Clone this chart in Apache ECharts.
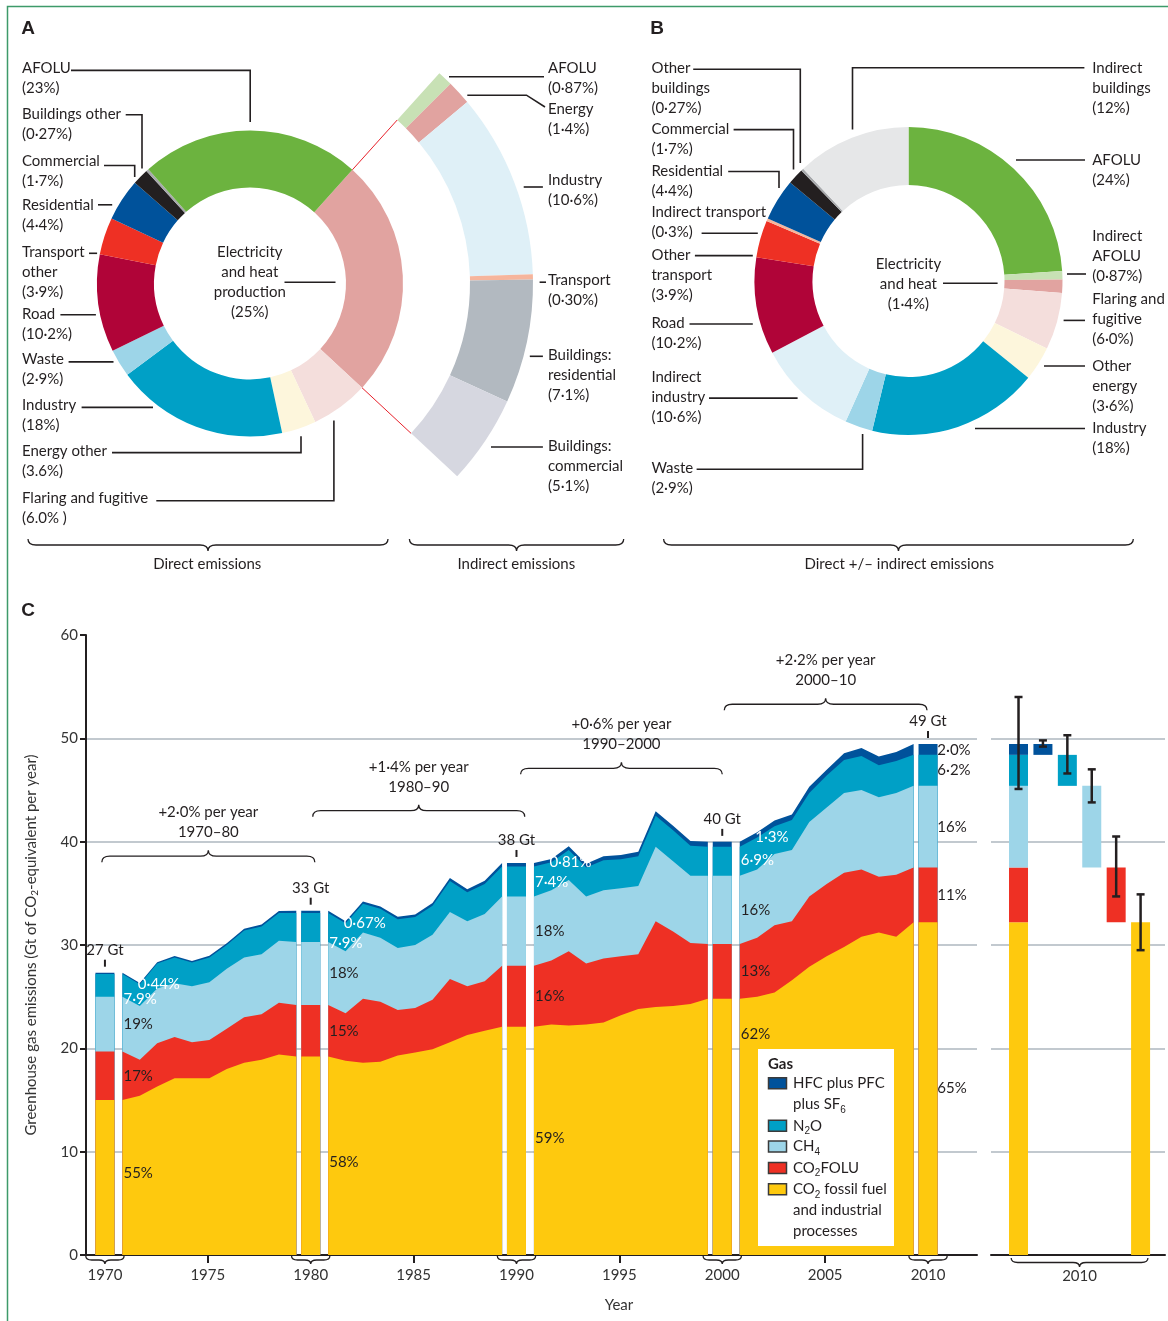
<!DOCTYPE html>
<html>
<head>
<meta charset="utf-8">
<title>Greenhouse gas emissions by sector and gas</title>
<script src="https://cdn.jsdelivr.net/npm/echarts@6/dist/echarts.min.js"></script>
<style>
    html, body { margin: 0; padding: 0; background: #fff; }
    #main { width: 1168px; height: 1321px; }
</style>
</head>
<body>
<div id="main"></div>
<script>
// ---- panel A: direct emissions by sector (% of total), clockwise from electricity
var directSectors = ['Electricity and heat production', 'Flaring and fugitive', 'Energy other', 'Industry', 'Waste', 'Road',
    'Transport other', 'Residential', 'Commercial', 'Buildings other', 'AFOLU'];
var directShares = [25, 6.0, 3.6, 18, 2.9, 10.2, 3.9, 4.4, 1.7, 0.27, 23];
// electricity and heat split out to the sectors that use it
var indirectSectors = ['AFOLU', 'Energy', 'Industry', 'Transport', 'Buildings: residential', 'Buildings: commercial'];
var indirectShares = [0.87, 1.4, 10.6, 0.30, 7.1, 5.1];

// ---- panel B: direct +/- indirect, clockwise from the top
var combinedSectors = ['AFOLU', 'Indirect AFOLU', 'Electricity and heat', 'Flaring and fugitive', 'Other energy', 'Industry',
    'Waste', 'Indirect industry', 'Road', 'Other transport', 'Indirect transport', 'Residential', 'Commercial',
    'Other buildings', 'Indirect buildings'];
var combinedShares = [24, 0.87, 1.4, 6.0, 3.6, 18, 2.9, 10.6, 10.2, 3.9, 0.3, 4.4, 1.7, 0.27, 12];

// ---- panel C: Gt CO2-eq per year, 1970 .. 2010
var firstYear = 1970;
var co2Fossil = [15.0, 15.4, 16.3, 17.1, 17.1, 17.1, 18.0, 18.6, 18.9, 19.4,
    19.2, 18.8, 18.6, 18.7, 19.3, 19.6, 19.9, 20.6, 21.3, 21.7,
    22.1, 22.3, 22.2, 22.3, 22.5, 23.2, 23.8, 24.0, 24.1, 24.3,
    24.8, 25.0, 25.4, 26.6, 27.9, 28.9, 29.8, 30.8, 31.2, 30.8,
    32.2];
var co2Folu = [4.7, 3.5, 4.2, 4.0, 3.5, 3.7, 3.9, 4.4, 4.4, 5.0,
    5.0, 4.6, 6.2, 5.8, 4.4, 4.3, 4.8, 6.1, 4.7, 4.8,
    5.9, 6.2, 7.2, 5.9, 6.2, 5.7, 5.3, 8.3, 7.2, 5.9,
    5.3, 5.7, 6.5, 5.7, 6.8, 7.0, 7.2, 6.5, 5.4, 6.0,
    5.3];
var ch4 = [5.3, 5.2, 5.3, 5.2, 5.4, 5.6, 5.8, 5.8, 5.8, 6.0,
    6.1, 6.0, 6.4, 6.2, 6.0, 6.1, 6.3, 6.5, 6.3, 6.5,
    6.7, 6.8, 6.9, 6.5, 6.6, 6.6, 6.6, 7.2, 6.8, 6.5,
    6.6, 6.6, 6.9, 6.9, 7.2, 7.4, 7.7, 7.7, 7.7, 7.9,
    7.9];
var n2o = [2.2, 2.1, 2.4, 2.5, 2.3, 2.4, 2.3, 2.6, 2.7, 2.7,
    2.8, 2.7, 2.8, 2.8, 2.8, 2.7, 2.8, 3.0, 2.8, 2.9,
    2.9, 2.7, 2.9, 2.8, 2.9, 2.8, 2.9, 3.0, 3.0, 2.9,
    2.8, 3.1, 2.7, 2.9, 2.8, 3.1, 3.2, 3.3, 3.1, 3.1,
    3.0];
var fGases = [0.12, 0.12, 0.13, 0.14, 0.14, 0.15, 0.16, 0.17, 0.18, 0.20,
    0.22, 0.21, 0.22, 0.23, 0.24, 0.25, 0.27, 0.28, 0.30, 0.32,
    0.34, 0.33, 0.35, 0.36, 0.38, 0.40, 0.42, 0.44, 0.45, 0.47,
    0.48, 0.50, 0.56, 0.52, 0.62, 0.55, 0.66, 0.76, 0.84, 0.88,
    1.05];

var decadeYears = [1970, 1980, 1990, 2000, 2010];
var totalLabels = ['27 Gt', '33 Gt', '38 Gt', '40 Gt', '49 Gt'];
var shareFossil = ['55%', '58%', '59%', '62%', '65%'];
var shareFolu = ['17%', '15%', '16%', '13%', '11%'];
var shareCh4 = ['19%', '18%', '18%', '16%', '16%'];
var shareN2o = ['7·9%', '7·9%', '7·4%', '6·9%', '6·2%'];
var shareFgas = ['0·44%', '0·67%', '0·81%', '1·3%', '2·0%'];
var periodRates = ['+2·0% per year', '+1·4% per year', '+0·6% per year', '+2·2% per year'];
var periodNames = ['1970–80', '1980–90', '1990–2000', '2000–10'];

// 2010 uncertainty: total, F-gases, N2O, CH4, CO2 FOLU, CO2 fossil
var rangeLow = [45.1, 49.2, 46.6, 43.8, 34.7, 29.5];
var rangeHigh = [54.0, 49.8, 50.3, 47.0, 40.5, 34.9];

// ---------------------------------------------------------------- styles
var ink = '#231f20';
var FONT = 'Lato, "Open Sans", "DejaVu Sans", sans-serif';
var directColors = ['#e1a3a0', '#f4dedc', '#fdf6dc', '#00a0c6', '#9dd5e8', '#b00438', '#ee3024', '#00529b', '#231f20', '#a7a9ac', '#6cb33f'];
var indirectColors = ['#c8e1b5', '#e1a3a0', '#dff0f7', '#f6b59c', '#b2b9c0', '#d6d7e0'];
var combinedColors = ['#6cb33f', '#c8e1b5', '#e1a3a0', '#f4dedc', '#fdf6dc', '#00a0c6', '#9dd5e8', '#dff0f7', '#b00438', '#ee3024', '#f6b59c', '#00529b', '#231f20', '#a7a9ac', '#e6e7e8'];
var gasNames = ['CO2 fossil fuel and industrial processes', 'CO2FOLU', 'CH4', 'N2O', 'HFC plus PFC plus SF6'];
var gasColors = ['#fec90e', '#ee3024', '#9dd5e8', '#00a0c6', '#00529b'];
var gasValues = [co2Fossil, co2Folu, ch4, n2o, fGases];
var fossilLabelAt = [0.53, 0.47, 0.51, 0.86, 0.5];   // where the big % sits inside the yellow band
var braceSpans = [[1969.85, 1980.2], [1980.1, 1990.4], [1990.2, 2000.0], [2000.1, 2009.95]];
var braceLevels = [38.6, 43.0, 47.1, 53.3];

// cumulative tops for one year: [0, fossil, +folu, +ch4, +n2o, +f]
function stackAt(i) {
    var out = [0], s = 0;
    for (var g = 0; g < gasValues.length; g++) { s += gasValues[g][i]; out.push(s); }
    return out;
}
// each decade is drawn squeezed between its two bars
function blockX(year, start) { return start + 0.85 + (year - start) * 0.845; }

function bracePath(x0, x1, y, h, dir) {
    var xm = (x0 + x1) / 2, r = Math.min(h / 2 + 2, (x1 - x0) / 6);
    var yh = y + dir * h / 2, yn = y + dir * h;
    return 'M' + x0 + ',' + y +
        ' Q' + x0 + ',' + yh + ' ' + (x0 + r) + ',' + yh +
        ' L' + (xm - r) + ',' + yh +
        ' Q' + xm + ',' + yh + ' ' + xm + ',' + yn +
        ' Q' + xm + ',' + yh + ' ' + (xm + r) + ',' + yh +
        ' L' + (x1 - r) + ',' + yh +
        ' Q' + x1 + ',' + yh + ' ' + x1 + ',' + y;
}
function braceEl(x0, x1, y, h, dir) {
    return { type: 'path', shape: { pathData: bracePath(x0, x1, y, h, dir) }, style: { stroke: ink, fill: null, lineWidth: 1.3 } };
}

function txt(x, y, str, align, extra) {
    var st = {
        text: str, x: x, y: y, fill: ink, font: '15px ' + FONT,
        align: align, textAlign: align, verticalAlign: 'middle', textVerticalAlign: 'middle', lineHeight: 20
    };
    for (var k in extra) st[k] = extra[k];
    return { type: 'text', silent: true, style: st };
}

function sum(a) { return a.reduce(function (s, v) { return s + v; }, 0); }

// ---------------------------------------------------------------- panel C series
var series = [];

[1970, 1980, 1990, 2000].forEach(function (start) {
    for (var g = gasValues.length - 1; g >= 0; g--) {
        var pts = [];
        for (var yr = start; yr <= start + 10; yr++) {
            pts.push([blockX(yr, start), stackAt(yr - firstYear)[g + 1]]);
        }
        series.push({
            type: 'line', name: gasNames[g], xAxisIndex: 0, yAxisIndex: 0, silent: true,
            symbol: 'none', data: pts, lineStyle: { width: 0 },
            areaStyle: { color: gasColors[g], opacity: 1 }, z: 2
        });
    }
});

for (var g = gasValues.length - 1; g >= 0; g--) {
    series.push({
        type: 'bar', name: gasNames[g], xAxisIndex: 0, yAxisIndex: 0, silent: true,
        barWidth: 19, barGap: '-100%', itemStyle: { color: gasColors[g] }, z: 2,
        data: decadeYears.map(function (d) { return [d, stackAt(d - firstYear)[g + 1]]; })
    });
}

// totals, shares and the small braces under the axis
series.push({
    type: 'custom', xAxisIndex: 0, yAxisIndex: 0, silent: true, clip: false, z: 10,
    data: decadeYears.map(function (d) { return [d, 0]; }),
    renderItem: function (params, api) {
        var k = params.dataIndex, d = decadeYears[k], i = d - firstYear, c = stackAt(i);
        var kids = [];
        var top = api.coord([d, c[5]]);
        kids.push({ type: 'line', shape: { x1: top[0], y1: top[1] - 6, x2: top[0], y2: top[1] - 13 }, style: { stroke: ink, lineWidth: 2 } });
        kids.push(txt(top[0], top[1] - 23, totalLabels[k], 'center'));
        var b0 = api.coord([d - 0.93, 0]), b1 = api.coord([d + 0.93, 0]);
        kids.push(braceEl(b0[0], b1[0], b0[1] + 1, 8, 1));

        var white = '#ffffff', pos;
        if (k < 4) {
            var cj = stackAt(i + 1);
            pos = [
                [d + 0.9, co2Fossil[i] * fossilLabelAt[k], ink, shareFossil[k]],
                [d + 0.9, (c[1] + c[2]) / 2, ink, shareFolu[k]],
                [d + 0.9, (c[2] + c[3]) / 2, ink, shareCh4[k]],
                [d + 0.9, cj[3] + 0.3 * n2o[i + 1], white, shareN2o[k]],
                [d + 1.6, cj[4], white, shareFgas[k]]
            ];
        } else {
            pos = [
                [d + 0.45, co2Fossil[i] * fossilLabelAt[k], ink, shareFossil[k]],
                [d + 0.45, (c[1] + c[2]) / 2, ink, shareFolu[k]],
                [d + 0.45, (c[2] + c[3]) / 2, ink, shareCh4[k]],
                [d + 0.45, (c[3] + c[4]) / 2, ink, shareN2o[k]],
                [d + 0.45, (c[4] + c[5]) / 2 - 0.1, ink, shareFgas[k]]
            ];
        }
        pos.forEach(function (p) {
            var xy = api.coord([p[0], p[1]]);
            kids.push(txt(xy[0], xy[1], p[3], 'left', { fill: p[2] }));
        });
        return { type: 'group', children: kids };
    }
});

// growth-rate braces above each decade
series.push({
    type: 'custom', xAxisIndex: 0, yAxisIndex: 0, silent: true, clip: false, z: 10,
    data: braceSpans.map(function (s, k) { return [s[0], braceLevels[k]]; }),
    renderItem: function (params, api) {
        var k = params.dataIndex;
        var p0 = api.coord([braceSpans[k][0], braceLevels[k]]), p1 = api.coord([braceSpans[k][1], braceLevels[k]]);
        var xm = (p0[0] + p1[0]) / 2;
        return {
            type: 'group', children: [
                braceEl(p0[0], p1[0], p0[1] + 6, 12, -1),
                txt(xm, p0[1] - 24, periodNames[k], 'center'),
                txt(xm, p0[1] - 44, periodRates[k], 'center')
            ]
        };
    }
});

// 2010 breakdown by gas, right-hand panel
var top2010 = stackAt(2010 - firstYear);
var stepData = [];
for (g = 0; g < 5; g++) stepData.push([0, top2010[g], top2010[g + 1], g]);
[4, 3, 2, 1, 0].forEach(function (gi, n) { stepData.push([n + 1, top2010[gi], top2010[gi + 1], gi]); });

series.push({
    type: 'custom', xAxisIndex: 1, yAxisIndex: 1, silent: true, z: 3,
    encode: { x: 0, y: [1, 2] },
    data: stepData,
    renderItem: function (params, api) {
        var a = api.coord([api.value(0), api.value(1)]), b = api.coord([api.value(0), api.value(2)]);
        return { type: 'rect', shape: { x: a[0] - 9.5, y: b[1], width: 19, height: a[1] - b[1] }, style: { fill: gasColors[api.value(3)] } };
    }
});

series.push({
    type: 'custom', xAxisIndex: 1, yAxisIndex: 1, silent: true, z: 6,
    encode: { x: 0, y: [1, 2] },
    data: rangeLow.map(function (lo, n) { return [n, lo, rangeHigh[n]]; }),
    renderItem: function (params, api) {
        var lo = api.coord([api.value(0), api.value(1)]), hi = api.coord([api.value(0), api.value(2)]);
        var st = { stroke: ink, lineWidth: 2.5 };
        return {
            type: 'group', children: [
                { type: 'line', shape: { x1: lo[0], y1: lo[1], x2: hi[0], y2: hi[1] }, style: st },
                { type: 'line', shape: { x1: lo[0] - 4, y1: lo[1], x2: lo[0] + 4, y2: lo[1] }, style: st },
                { type: 'line', shape: { x1: hi[0] - 4, y1: hi[1], x2: hi[0] + 4, y2: hi[1] }, style: st }
            ]
        };
    }
});

series.push({
    type: 'custom', xAxisIndex: 1, yAxisIndex: 1, silent: true, clip: false, z: 6,
    data: [[-0.3, 0]],
    renderItem: function (params, api) {
        var p0 = api.coord([-0.3, 0]), p1 = api.coord([5.3, 0]);
        return {
            type: 'group', children: [
                braceEl(p0[0], p1[0], p0[1] + 3, 9, 1),
                txt((p0[0] + p1[0]) / 2, p0[1] + 21, '2010', 'center', { fill: '#333' })
            ]
        };
    }
});

// ---------------------------------------------------------------- panels A and B
var cA = [250, 283.5], cB = [908.5, 281];
var elecSweep = 360 * directShares[0] / sum(directShares);

series.push({
    type: 'pie', center: cA, radius: [96, 153], startAngle: 48, silent: true,
    label: { show: false }, labelLine: { show: false }, emphasis: { disabled: true },
    data: directSectors.map(function (n, i) { return { name: n, value: directShares[i], itemStyle: { color: directColors[i] } }; })
});
series.push({
    type: 'pie', center: cA, radius: [220, 283], startAngle: 48, endAngle: 48 - elecSweep, silent: true,
    label: { show: false }, labelLine: { show: false }, emphasis: { disabled: true },
    data: indirectSectors.map(function (n, i) { return { name: n, value: indirectShares[i], itemStyle: { color: indirectColors[i] } }; })
});
series.push({
    type: 'pie', center: cB, radius: [96, 154], startAngle: 90, silent: true,
    label: { show: false }, labelLine: { show: false }, emphasis: { disabled: true },
    data: combinedSectors.map(function (n, i) { return { name: n, value: combinedShares[i], itemStyle: { color: combinedColors[i] } }; })
});

// braces under panels A and B (plain page positions)
series.push({
    type: 'custom', coordinateSystem: 'none', silent: true, z: 10,
    data: [[0]],
    renderItem: function () {
        return {
            type: 'group', children: [
                braceEl(28, 388, 539, 12, 1),
                braceEl(409.4, 623.7, 539, 12, 1),
                braceEl(663.6, 1133.3, 539, 12, 1)
            ]
        };
    }
});

// ---------------------------------------------------------------- labels and furniture
var graphics = [];
function addLabel(x, y, lines, align) {
    graphics.push(txt(x, y - 10, lines.join('\n'), align || 'left', { verticalAlign: 'top', textVerticalAlign: 'top' }));
}
function addLeader(pts) {
    graphics.push({ type: 'polyline', silent: true, shape: { points: pts }, style: { stroke: ink, lineWidth: 1.6, fill: null } });
}

var labelsA = [
    [22, 68.5, ['AFOLU', '(23%)'], [[71, 70.4], [250.2, 70.4], [250.2, 122]]],
    [22, 113.7, ['Buildings other', '(0·27%)'], [[125.7, 114.8], [142, 114.8], [142, 168.5]]],
    [22, 161, ['Commercial', '(1·7%)'], [[104, 165.5], [134.7, 165.5], [134.7, 177]]],
    [22, 204.8, ['Residential', '(4·4%)'], [[98, 204.8], [112.2, 204.8]]],
    [22, 252.6, ['Transport', 'other', '(3·9%)'], [[89, 253.3], [97.1, 253.3]]],
    [22, 314, ['Road', '(10·2%)'], [[60.4, 314.8], [95.9, 314.8]]],
    [22, 359, ['Waste', '(2·9%)'], [[68.6, 361.9], [113.5, 361.9]]],
    [22, 405.6, ['Industry', '(18%)'], [[81.6, 407.4], [153, 407.4]]],
    [22, 451, ['Energy other', '(3.6%)'], [[112, 452.6], [301, 452.6], [301, 436.3]]],
    [22, 498, ['Flaring and fugitive', '(6.0% )'], [[156.3, 500.7], [333.9, 500.7], [333.9, 420.4]]],
    [548, 67.8, ['AFOLU', '(0·87%)'], [[449, 76.7], [544, 76.7]]],
    [548, 109.6, ['Energy', '(1·4%)'], [[467.3, 95.2], [526.5, 95.2], [545, 107]]],
    [548, 180.4, ['Industry', '(10·6%)'], [[523.7, 187], [542.9, 187]]],
    [548, 280.4, ['Transport', '(0·30%)'], [[539.6, 282.2], [546, 282.2]]],
    [548, 355.6, ['Buildings:', 'residential', '(7·1%)'], [[529.8, 356.3], [542.9, 356.3]]],
    [548, 446.3, ['Buildings:', 'commercial', '(5·1%)'], [[491, 447], [542.9, 447]]]
];
var labelsB = [
    [651.4, 67.8, ['Other', 'buildings', '(0·27%)'], [[693.2, 69.3], [800.3, 69.3], [800.3, 163]]],
    [651.4, 128.9, ['Commercial', '(1·7%)'], [[733.6, 129.6], [793.5, 129.6], [793.5, 169.6]]],
    [651.4, 171.5, ['Residential', '(4·4%)'], [[728.2, 171.5], [779, 171.5], [779, 188]]],
    [651.4, 212.2, ['Indirect transport', '(0·3%)'], [[701.6, 233.3], [757.8, 233.3]]],
    [651.4, 254.8, ['Other', 'transport', '(3·9%)'], [[694.9, 255.6], [752.8, 255.6]]],
    [651.4, 323, ['Road', '(10·2%)'], [[689.5, 324], [752.8, 324]]],
    [651.4, 377, ['Indirect', 'industry', '(10·6%)'], [[709, 398.1], [797.6, 398.1]]],
    [651.4, 468.5, ['Waste', '(2·9%)'], [[696.6, 469.3], [862.6, 469.3], [862.6, 434]]],
    [1092.2, 67.8, ['Indirect', 'buildings', '(12%)'], [[1084.4, 67.8], [852.5, 67.8], [852.5, 129.6]]],
    [1092.2, 160, ['AFOLU', '(24%)'], [[1016, 160], [1085, 160]]],
    [1092.2, 236, ['Indirect', 'AFOLU', '(0·87%)'], [[1067, 274], [1086, 274]]],
    [1092.2, 299.3, ['Flaring and', 'fugitive', '(6·0%)'], [[1063.6, 320.4], [1085, 320.4]]],
    [1092.2, 366, ['Other', 'energy', '(3·6%)'], [[1044, 366], [1085, 366]]],
    [1092.2, 427.8, ['Industry', '(18%)'], [[975, 428.5], [1085, 428.5]]]
];
labelsA.concat(labelsB).forEach(function (l) { addLabel(l[0], l[1], l[2]); addLeader(l[3]); });

addLabel(249.8, 251.9, ['Electricity', 'and heat', 'production', '(25%)'], 'center');
addLeader([[284.5, 282.2], [335.5, 282.2]]);
addLabel(908.4, 264, ['Electricity', 'and heat', '(1·4%)'], 'center');
addLeader([[943, 283.3], [997.6, 283.3]]);

// red guides from the electricity slice out to its breakdown
[48, 48 - elecSweep].forEach(function (a) {
    var r = a * Math.PI / 180;
    graphics.push({
        type: 'line', silent: true,
        shape: { x1: cA[0] + 153 * Math.cos(r), y1: cA[1] - 153 * Math.sin(r), x2: cA[0] + 220 * Math.cos(r), y2: cA[1] - 220 * Math.sin(r) },
        style: { stroke: '#e8202a', lineWidth: 1 }
    });
});

graphics.push(txt(207.3, 564, 'Direct emissions', 'center'));
graphics.push(txt(516.3, 564, 'Indirect emissions', 'center'));
graphics.push(txt(899.3, 564, 'Direct +/– indirect emissions', 'center'));

var letterFont = 'bold 19px "Liberation Sans", Arial, sans-serif';
graphics.push(txt(28, 29, 'A', 'center', { font: letterFont }));
graphics.push(txt(657, 29, 'B', 'center', { font: letterFont }));
graphics.push(txt(28, 611, 'C', 'center', { font: letterFont }));
graphics.push(txt(619, 1305, 'Year', 'center', { fill: '#333' }));

// frame
graphics.push({ type: 'polyline', silent: true, shape: { points: [[7.5, 1321], [7.5, 6.5], [1168, 6.5]] }, style: { stroke: '#3d9a6a', lineWidth: 1.5, fill: null } });

// gas key
var subRich = { sub: { fontSize: 10, lineHeight: 10, verticalAlign: 'bottom' } };
graphics.push({ type: 'rect', silent: true, shape: { x: 758, y: 1049, width: 136, height: 197 }, style: { fill: '#fff' } });
graphics.push(txt(768, 1064, 'Gas', 'left', { font: 'bold 15px ' + FONT }));
var keyRows = [
    [4, 1083.3, 'HFC plus PFC\nplus SF{sub|6}'],
    [3, 1125.7, 'N{sub|2}O'],
    [2, 1146.5, 'CH{sub|4}'],
    [1, 1168, 'CO{sub|2}FOLU'],
    [0, 1189.3, 'CO{sub|2} fossil fuel\nand industrial\nprocesses']
];
keyRows.forEach(function (r) {
    graphics.push({ type: 'rect', silent: true, shape: { x: 768.5, y: r[1] - 5.5, width: 18, height: 11 }, style: { fill: gasColors[r[0]], stroke: '#3a3a3a', lineWidth: 1.5 } });
    graphics.push(txt(793, r[1] - 10.5, r[2], 'left', { verticalAlign: 'top', textVerticalAlign: 'top', lineHeight: 21, rich: subRich }));
});
graphics.forEach(function (el) { el.z = 20; });

// ---------------------------------------------------------------- chart
var myChart = echarts.init(document.getElementById('main'));
var option = {
    backgroundColor: '#fff',
    animation: false,
    textStyle: { fontFamily: FONT, color: ink },
    grid: [
        { left: 86, top: 635, width: 891, height: 620 },
        { left: 991, top: 635, width: 174, height: 620 }
    ],
    xAxis: [
        {
            type: 'value', gridIndex: 0, min: 1969.08, max: 2012.38,
            axisLine: { lineStyle: { color: ink, width: 2 } },
            axisTick: { customValues: [1975, 1985, 1995, 2005], length: 8, lineStyle: { color: ink, width: 2 } },
            axisLabel: {
                customValues: [1970, 1975, 1980, 1985, 1990, 1995, 2000, 2005, 2010], margin: 13, fontSize: 15, color: '#333',
                formatter: function (v) { return String(v); }
            },
            splitLine: { show: false }
        },
        {
            type: 'value', gridIndex: 1, min: -1.127, max: 6.0,
            axisLine: { lineStyle: { color: ink, width: 2 } },
            axisTick: { show: false }, axisLabel: { show: false }, splitLine: { show: false }
        }
    ],
    yAxis: [
        {
            type: 'value', gridIndex: 0, min: 0, max: 60, interval: 10,
            axisLine: { show: true, lineStyle: { color: ink, width: 2 } },
            axisTick: { show: true, length: 6, lineStyle: { color: ink, width: 2 } },
            axisLabel: { fontSize: 15, color: '#333', margin: 8 },
            splitLine: { show: true, showMaxLine: false, lineStyle: { color: '#aeb7bf', width: 1.6 } },
            name: 'Greenhouse gas emissions (Gt of CO{sub|2}-equivalent per year)',
            nameLocation: 'middle', nameGap: 46,
            nameTextStyle: { fontSize: 15, color: '#333', lineHeight: 18, rich: { sub: { fontSize: 10, lineHeight: 10, verticalAlign: 'bottom' } } }
        },
        {
            type: 'value', gridIndex: 1, min: 0, max: 60, interval: 10,
            axisLine: { show: false }, axisTick: { show: false }, axisLabel: { show: false },
            splitLine: { show: true, showMaxLine: false, lineStyle: { color: '#aeb7bf', width: 1.6 } }
        }
    ],
    series: series,
    graphic: graphics
};
myChart.setOption(option);
</script>
</body>
</html>
